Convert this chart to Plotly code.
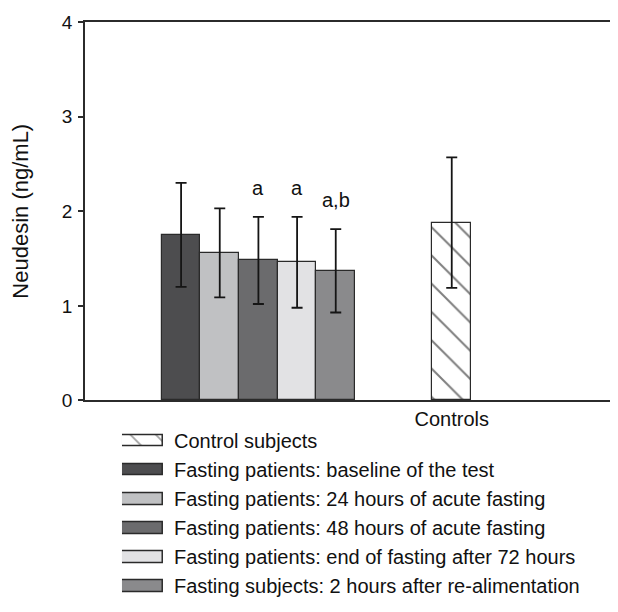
import plotly.graph_objects as go

# ---- data ----
fasting_labels = [
    "Fasting patients: baseline of the test",
    "Fasting patients: 24 hours of acute fasting",
    "Fasting patients: 48 hours of acute fasting",
    "Fasting patients: end of fasting after 72 hours",
    "Fasting subjects: 2 hours after re-alimentation",
]
fasting_means = [1.75, 1.56, 1.48, 1.46, 1.37]
fasting_sd = [0.55, 0.47, 0.46, 0.48, 0.44]
fasting_sig = ["", "", "a", "a", "a,b"]
fasting_colors = ["#4d4d4f", "#c0c1c3", "#6b6b6d", "#e2e2e4", "#8a8a8c"]

control_label = "Control subjects"
control_mean = 1.88
control_sd = 0.69
control_color = "white"

group_positions = [1, 2]
group_ticktext = ["", "Controls"]

y_ticks = [0, 1, 2, 3, 4]

FONT = "Liberation Sans, Arial, sans-serif"
TXT = "#111111"
EDGE = "#2a2a2a"
HATCH = "\\"

fig = go.Figure()

# ---- main bars ----
n = len(fasting_means)
bar_w = 1.0 / n
for i in range(n):
    fig.add_trace(go.Bar(
        x=[group_positions[0]], y=[fasting_means[i]],
        name=fasting_labels[i], offsetgroup=f"g{i}",
        marker=dict(color=fasting_colors[i], line=dict(color=EDGE, width=1.2)),
        error_y=dict(type="data", array=[fasting_sd[i]], color="#151515", thickness=1.8, width=5.5),
        xaxis="x", yaxis="y",
    ))

fig.add_trace(go.Bar(
    x=[group_positions[1]], y=[control_mean],
    name=control_label, offsetgroup=f"g{n // 2}",
    marker=dict(color=control_color, line=dict(color=EDGE, width=1.2),
                pattern=dict(shape=HATCH, fgcolor="#000000", bgcolor="white", size=20, solidity=0.1)),
    error_y=dict(type="data", array=[control_sd], color="#151515", thickness=1.8, width=5.5),
    xaxis="x", yaxis="y",
))

for i in range(n):
    if fasting_sig[i]:
        xpos = group_positions[0] - 0.5 + bar_w * (i + 0.5)
        fig.add_annotation(
            x=xpos, y=fasting_means[i] + fasting_sd[i], text=fasting_sig[i],
            showarrow=False, yanchor="bottom", yshift=16, xref="x", yref="y",
            font=dict(family=FONT, size=20, color=TXT),
        )

# ---- legend drawn as swatch bars on a small helper axis ----
legend_labels = [control_label] + fasting_labels
legend_colors = [control_color] + fasting_colors
legend_patterns = [HATCH] + [""] * n
fig.add_trace(go.Bar(
    x=[1] * len(legend_labels), y=legend_labels, orientation="h", width=0.4,
    marker=dict(color=legend_colors, line=dict(color=EDGE, width=1.5),
                pattern=dict(shape=legend_patterns, fgcolor="#000000", size=18, solidity=0.1)),
    xaxis="x2", yaxis="y2", hoverinfo="skip",
))

fig.update_layout(
    width=610, height=604,
    margin=dict(l=77, r=0, t=14, b=0),
    plot_bgcolor="white", paper_bgcolor="white",
    barmode="group", bargap=0, bargroupgap=0,
    font=dict(family=FONT, size=20, color=TXT),
    showlegend=False,
    xaxis=dict(
        domain=[0, 1], anchor="y",
        range=[0.103, 2.86], tickvals=group_positions, ticktext=group_ticktext,
        showline=True, linecolor="#2b2b2b", linewidth=1.8, mirror=True,
        ticks="", showgrid=False, zeroline=False,
        tickfont=dict(family=FONT, size=20, color=TXT),
    ),
    yaxis=dict(
        domain=[0.3463, 1], anchor="x",
        range=[0, 4], tickvals=y_ticks, showline=True, linecolor="#2b2b2b", linewidth=1.8,
        ticks="outside", ticklen=5, tickwidth=1.5, tickcolor="#2b2b2b",
        showgrid=False, zeroline=False, ticklabelstandoff=2,
        title=dict(text="Neudesin (ng/mL)", font=dict(family=FONT, size=22, color=TXT), standoff=28),
        tickfont=dict(family=FONT, size=19, color=TXT),
    ),
    xaxis2=dict(
        domain=[0.0694, 0.1463], anchor="y2", range=[0, 1], visible=False, fixedrange=True,
    ),
    yaxis2=dict(
        domain=[0, 0.3017], anchor="x2", side="right", autorange="reversed",
        type="category", showline=False, ticks="", showgrid=False, zeroline=False,
        ticklabelstandoff=10, tickfont=dict(family=FONT, size=20, color=TXT),
    ),
)

fig.write_html("out.html")
